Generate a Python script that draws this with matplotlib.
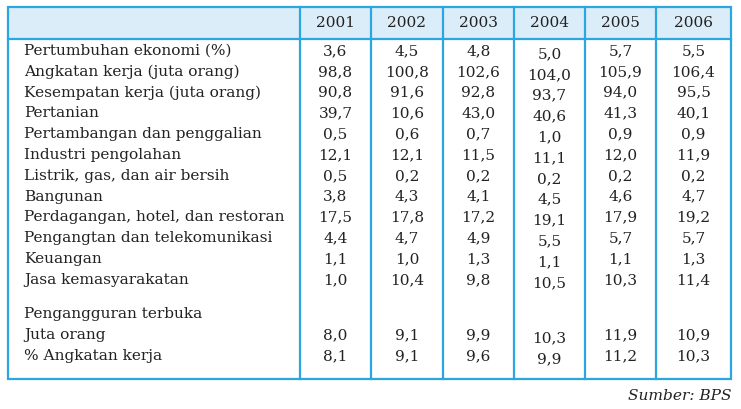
import matplotlib
matplotlib.use("Agg")
import matplotlib.pyplot as plt
from matplotlib.patches import Rectangle

years = ["2001", "2002", "2003", "2004", "2005", "2006"]
labels = ["Pertumbuhan ekonomi (%)", "Angkatan kerja (juta orang)", "Kesempatan kerja (juta orang)",
          "Pertanian", "Pertambangan dan penggalian", "Industri pengolahan",
          "Listrik, gas, dan air bersih", "Bangunan", "Perdagangan, hotel, dan restoran",
          "Pengangtan dan telekomunikasi", "Keuangan", "Jasa kemasyarakatan"]
values = [
    ["3,6", "4,5", "4,8", "5,0", "5,7", "5,5"],
    ["98,8", "100,8", "102,6", "104,0", "105,9", "106,4"],
    ["90,8", "91,6", "92,8", "93,7", "94,0", "95,5"],
    ["39,7", "10,6", "43,0", "40,6", "41,3", "40,1"],
    ["0,5", "0,6", "0,7", "1,0", "0,9", "0,9"],
    ["12,1", "12,1", "11,5", "11,1", "12,0", "11,9"],
    ["0,5", "0,2", "0,2", "0,2", "0,2", "0,2"],
    ["3,8", "4,3", "4,1", "4,5", "4,6", "4,7"],
    ["17,5", "17,8", "17,2", "19,1", "17,9", "19,2"],
    ["4,4", "4,7", "4,9", "5,5", "5,7", "5,7"],
    ["1,1", "1,0", "1,3", "1,1", "1,1", "1,3"],
    ["1,0", "10,4", "9,8", "10,5", "10,3", "11,4"],
]
unemp_title = "Pengangguran terbuka"
unemp_labels = ["Juta orang", "% Angkatan kerja"]
unemp_values = [
    ["8,0", "9,1", "9,9", "10,3", "11,9", "10,9"],
    ["8,1", "9,1", "9,6", "9,9", "11,2", "10,3"],
]
source = "Sumber: BPS"

W, H = 741, 409
fig = plt.figure(figsize=(W/100, H/100), dpi=100)
ax = fig.add_axes([0, 0, 1, 1])
ax.set_xlim(0, W); ax.set_ylim(H, 0); ax.axis("off")
blue = "#2aa7e0"
fam = "DejaVu Serif"
fs = 11.1
left, right, top, hb, bottom = 8, 731, 7, 39, 379
cols = [300, 371, 443, 514, 585, 656, 731]
ax.add_patch(Rectangle((left, top), right-left, hb-top, facecolor="#dcedfa", edgecolor="none"))
ax.add_patch(Rectangle((left, top), right-left, bottom-top, facecolor="none", edgecolor=blue, lw=1.6))
ax.plot([left, right], [hb, hb], color=blue, lw=1.6)
for c in cols[:-1]:
    ax.plot([c, c], [top, bottom], color=blue, lw=1.6)
centers = [(cols[i]+cols[i+1])/2 for i in range(6)]
for i, y in enumerate(years):
    ax.text(centers[i], 23, y, ha="center", va="center", fontsize=fs, family=fam, color="#222")
y0, dy = 51, 20.8
def row(y, lab, vals):
    ax.text(24, y, lab, ha="left", va="center", fontsize=fs, family=fam, color="#222")
    for i, v in enumerate(vals):
        off = 3 if i == 3 else 0
        ax.text(centers[i], y+off, v, ha="center", va="center", fontsize=fs, family=fam, color="#222")
for k, (lab, vals) in enumerate(zip(labels, values)):
    row(y0 + k*dy, lab, vals)
ax.text(24, 314, unemp_title, ha="left", va="center", fontsize=fs, family=fam, color="#222")
for k, (lab, vals) in enumerate(zip(unemp_labels, unemp_values)):
    row(335 + k*21, lab, vals)
ax.text(731, 396, source, ha="right", va="center", fontsize=fs, family=fam, style="italic", color="#222")
fig.savefig("out.png", dpi=100)
